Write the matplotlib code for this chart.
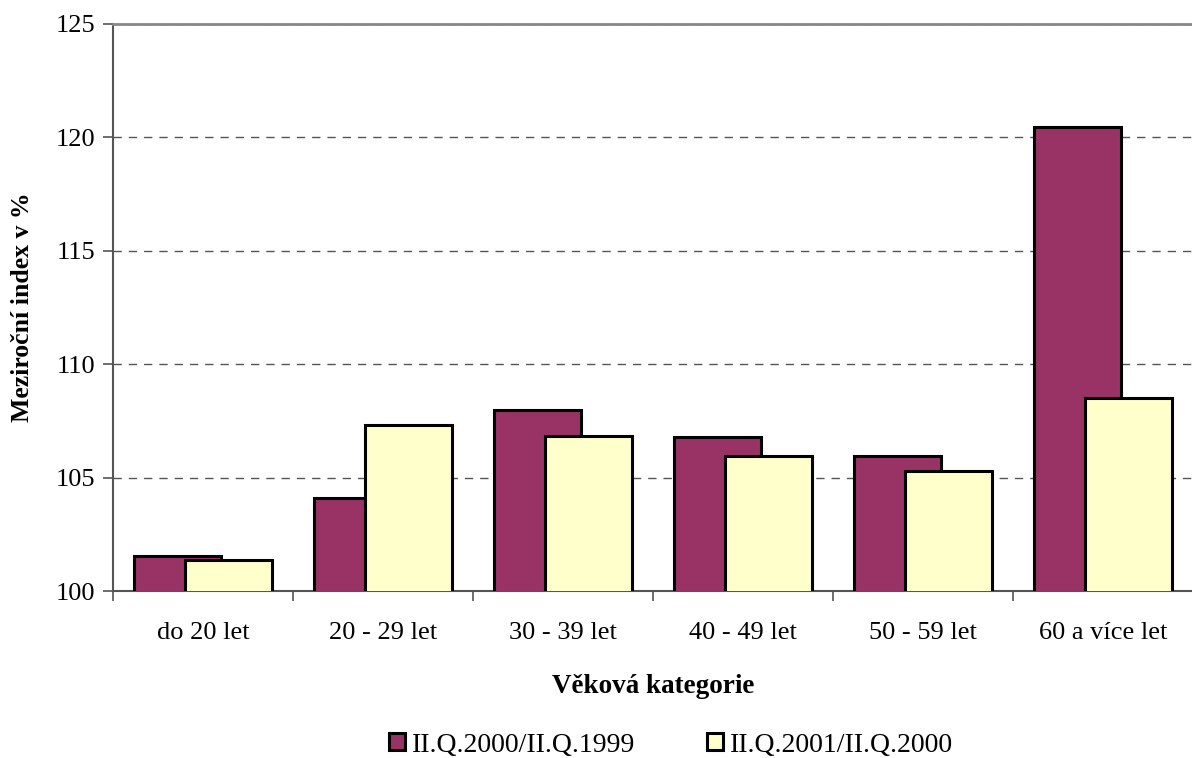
#!/usr/bin/env python3
"""Year-on-year index by age category, grouped bars."""

import matplotlib

matplotlib.use("Agg")
import matplotlib.pyplot as plt  # noqa: E402
import numpy as np  # noqa: E402

CATEGORIES = ["do 20 let", "20 - 29 let", "30 - 39 let", "40 - 49 let",
              "50 - 59 let", "60 a více let"]
SERIES_NAMES = ["II.Q.2000/II.Q.1999", "II.Q.2001/II.Q.2000"]
IDX_2000 = [101.55, 104.1, 108.0, 106.8, 105.95, 120.45]
IDX_2001 = [101.35, 107.3, 106.85, 105.95, 105.3, 108.5]
COLORS = ["#993366", "#FFFFCC"]

plt.rcParams.update({
    "font.family": ["Liberation Serif", "DejaVu Serif"],
    "font.size": 19,
})

fig = plt.figure(figsize=(11.92, 7.58), dpi=100)
ax = fig.add_axes([113 / 1192, 1 - 591 / 758, 1080 / 1192, 567 / 758])

x = np.arange(len(CATEGORIES))
width = 0.483
off = 0.144
ax.bar(x - off, IDX_2000, width, color=COLORS[0], edgecolor="black",
       linewidth=2.2, label=SERIES_NAMES[0], zorder=3)
ax.bar(x + off, IDX_2001, width, color=COLORS[1], edgecolor="black",
       linewidth=2.2, label=SERIES_NAMES[1], zorder=4)

ax.set_xlim(-0.5, len(CATEGORIES) - 0.5)
ax.set_ylim(100, 125)
ax.set_yticks(range(100, 126, 5))
ax.set_xticks(x)
ax.set_xticklabels(CATEGORIES)
ax.set_xticks(np.arange(-0.5, len(CATEGORIES)), minor=True)
ax.tick_params(axis="x", which="major", length=0, pad=22)
ax.tick_params(axis="x", which="minor", length=7, color="#555555", width=1.2)
ax.tick_params(axis="y", length=7, color="#555555", width=1.2, pad=6)

ax.yaxis.grid(True, linestyle=(0, (6, 5)), color="#555555", linewidth=1.0)
ax.set_axisbelow(True)
for side in ("left", "bottom"):
    ax.spines[side].set_color("#555555")
    ax.spines[side].set_linewidth(1.5)
ax.spines["top"].set_color("#888888")
ax.spines["top"].set_linewidth(2)
ax.spines["right"].set_visible(False)

ax.set_ylabel("Meziroční index v %", fontweight="bold", fontsize=18.5, labelpad=15)
ax.set_xlabel("Věková kategorie", fontweight="bold", fontsize=19.5, labelpad=22)

fig.legend(loc="center", bbox_to_anchor=(671 / 1192, 1 - 745 / 758), ncol=2,
           frameon=False, handlelength=0.55, handleheight=0.55,
           handletextpad=0.25, columnspacing=2.6, fontsize=20)

fig.savefig("out.png", dpi=100)
